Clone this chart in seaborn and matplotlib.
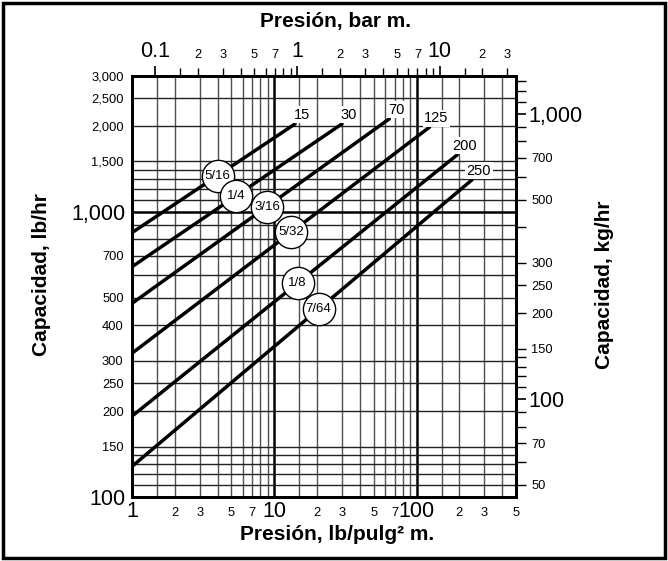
import numpy as np
import pandas as pd
import matplotlib
matplotlib.use("Agg")
import matplotlib.pyplot as plt
import seaborn as sns
from matplotlib.ticker import FixedLocator, FuncFormatter
from matplotlib.patches import Rectangle

# ---------------- data ----------------
max_pressure_labels = ["15", "30", "70", "125", "200", "250"]
orifice_sizes = ["5/16", "1/4", "3/16", "5/32", "1/8", "7/64"]
psi_start = [1, 1, 1, 1, 1, 1]
psi_end = [14.0, 29.9, 64.3, 123.4, 193, 245]
lb_start = [844, 641, 477, 319, 192, 128]
lb_end = [2030, 2030, 2114, 1978, 1581, 1292]
label_psi = [4.0, 5.4, 8.9, 13.2, 14.6, 20.5]

psi_major = [1, 10, 100]
psi_minor_labeled = [2, 3, 5, 7, 20, 30, 50, 70, 200, 300, 500]
psi_grid = [1.5, 2, 3, 4, 5, 6, 7, 8, 9, 15, 20, 30, 40, 50, 60, 70, 80, 90,
            150, 200, 300, 400]
psi_grid_bold = [10, 100]

lb_major = [100, 1000]
lb_minor_labeled = [150, 200, 250, 300, 400, 500, 700, 1500, 2000, 2500, 3000]
lb_grid = [110, 120, 130, 140, 150, 200, 250, 300, 400, 500, 600, 700, 800,
           900, 1100, 1200, 1300, 1400, 1500, 2000, 2500]
lb_grid_bold = [1000]

bar_major = [0.1, 1, 10]
bar_minor_labeled = [0.2, 0.3, 0.5, 0.7, 2, 3, 5, 7, 20, 30]
bar_minor_unlabeled = [0.15, 0.4, 0.6, 0.8, 0.9, 1.5, 4, 6, 8, 9, 15]

kg_major = [100, 1000]
kg_minor_labeled = [50, 70, 150, 200, 250, 300, 500, 700]
kg_minor_unlabeled = [60, 80, 90, 110, 120, 130, 140, 400, 600, 800, 900,
                      1100, 1200, 1300]

PSI_PER_BAR = 14.5038
LB_PER_KG = 2.20462
PSI_LIM = (1, 500)
LB_LIM = (100, 3000)

# ---------------- style ----------------
sns.set_style("white")
plt.rcParams["font.family"] = ["Liberation Sans", "DejaVu Sans"]
plt.rcParams["axes.linewidth"] = 2.0
for key in ("text.color", "axes.labelcolor", "xtick.color", "ytick.color"):
    plt.rcParams[key] = "black"

BIG = 15.5
SMALL = 9.3

fig = plt.figure(figsize=(6.68, 5.61), dpi=100)
ax = fig.add_axes([132 / 668, 1 - 497 / 561, (516 - 132) / 668, (497 - 75.5) / 561])

ax.set_xscale("log")
ax.set_yscale("log")
ax.set_xlim(*PSI_LIM)
ax.set_ylim(*LB_LIM)

# grid
for v in psi_grid:
    ax.axvline(v, color="#505050", lw=1.0, zorder=1)
for v in psi_grid_bold:
    ax.axvline(v, color="black", lw=1.8, zorder=1)
for v in lb_grid:
    ax.axhline(v, color="#222222", lw=1.0, zorder=1)
for v in lb_grid_bold:
    ax.axhline(v, color="black", lw=1.8, zorder=1)

# lines
df = pd.DataFrame({
    "orifice": orifice_sizes * 2,
    "psi": psi_start + psi_end,
    "lb": lb_start + lb_end,
})
sns.lineplot(data=df, x="psi", y="lb", units="orifice", estimator=None,
             color="black", lw=2.5, ax=ax, legend=False, zorder=3)
ax.set_xlabel("")
ax.set_ylabel("")

# orifice circles
for name, xs, xe, ys, ye, xp in zip(orifice_sizes, psi_start, psi_end,
                                    lb_start, lb_end, label_psi):
    k = np.log(ye / ys) / np.log(xe / xs)
    yp = ys * (xp / xs) ** k
    ax.scatter([xp], [yp], s=540, facecolor="white", edgecolor="black",
               linewidth=1.0, zorder=5)
    ax.text(xp, yp, name, ha="center", va="center", fontsize=9.5, zorder=6)

# max pressure labels
for lab, xe, ye in zip(max_pressure_labels, psi_end, lb_end):
    ax.annotate(lab, xy=(xe, ye), xytext=(7, 9), textcoords="offset pixels",
                ha="center", va="center", fontsize=10.5, zorder=6,
                bbox=dict(boxstyle="square,pad=0.1", fc="white", ec="none"))

# bottom / left ticks
ax.xaxis.set_major_locator(FixedLocator(psi_major))
ax.xaxis.set_minor_locator(FixedLocator(psi_minor_labeled))
ax.xaxis.set_major_formatter(FuncFormatter(lambda v, p: f"{v:g}"))
ax.xaxis.set_minor_formatter(FuncFormatter(lambda v, p: f"{v:g}"[0]))
ax.yaxis.set_major_locator(FixedLocator(lb_major))
ax.yaxis.set_minor_locator(FixedLocator(lb_minor_labeled))
fmt_comma = FuncFormatter(lambda v, p: f"{int(round(v)):,}")
ax.yaxis.set_major_formatter(fmt_comma)
ax.yaxis.set_minor_formatter(fmt_comma)
ax.tick_params(axis="both", which="both", length=0)
ax.tick_params(axis="x", which="major", labelsize=BIG, pad=3)
ax.tick_params(axis="x", which="minor", labelsize=SMALL, pad=7)
ax.tick_params(axis="y", which="major", labelsize=BIG, pad=5)
ax.tick_params(axis="y", which="minor", labelsize=SMALL, pad=6)


def first_digit(v):
    return str(int(round(v / 10 ** np.floor(np.log10(v) + 1e-9))))


# top axis (bar)
ax_top = ax.twiny()
ax_top.set_xscale("log")
ax_top.set_xlim(PSI_LIM[0] / PSI_PER_BAR, PSI_LIM[1] / PSI_PER_BAR)
ax_top.xaxis.set_major_locator(FixedLocator(bar_major))
ax_top.xaxis.set_minor_locator(FixedLocator(bar_minor_labeled + bar_minor_unlabeled))
ax_top.xaxis.set_major_formatter(FuncFormatter(lambda v, p: f"{v:g}"))
ax_top.xaxis.set_minor_formatter(FuncFormatter(
    lambda v, p: first_digit(v) if any(np.isclose(v, bar_minor_labeled)) else ""))
ax_top.tick_params(axis="x", which="major", length=7.5, width=1.2, direction="out",
                   labelsize=BIG, pad=2)
ax_top.tick_params(axis="x", which="minor", length=5.5, width=1.0, direction="out",
                   labelsize=SMALL, pad=5)

# right axis (kg/hr)
ax_r = ax.twinx()
ax_r.set_yscale("log")
ax_r.set_ylim(LB_LIM[0] / LB_PER_KG, LB_LIM[1] / LB_PER_KG)
ax_r.yaxis.set_major_locator(FixedLocator(kg_major))
ax_r.yaxis.set_minor_locator(FixedLocator(kg_minor_labeled + kg_minor_unlabeled))
ax_r.yaxis.set_major_formatter(fmt_comma)
ax_r.yaxis.set_minor_formatter(FuncFormatter(
    lambda v, p: f"{int(round(v))}" if any(np.isclose(v, kg_minor_labeled)) else ""))
ax_r.tick_params(axis="y", which="major", length=7, width=1.2, direction="out",
                 labelsize=BIG, pad=2)
ax_r.tick_params(axis="y", which="minor", length=7, width=1.0, direction="out",
                 labelsize=SMALL, pad=4)

for a in (ax, ax_top, ax_r):
    for s in a.spines.values():
        s.set_linewidth(2.0)
        s.set_color("black")

# axis titles
TITLE = 15
fig.text(335 / 668, 1 - 22 / 561, "Presión, bar m.", ha="center", va="center",
         fontsize=TITLE, fontweight="bold")
fig.text(337 / 668, 1 - 535 / 561, "Presión, lb/pulg² m.", ha="center", va="center",
         fontsize=TITLE, fontweight="bold")
fig.text(42 / 668, 1 - 275 / 561, "Capacidad, lb/hr", ha="center", va="center",
         rotation=90, fontsize=TITLE, fontweight="bold")
fig.text(604 / 668, 1 - 285 / 561, "Capacidad, kg/hr", ha="center", va="center",
         rotation=90, fontsize=TITLE, fontweight="bold")

# outer frame
fig.patches.append(Rectangle((3 / 668, 3 / 561), 662 / 668, 555 / 561,
                             transform=fig.transFigure, fill=False,
                             lw=2.5, ec="black"))

fig.savefig("out.png", dpi=100)
